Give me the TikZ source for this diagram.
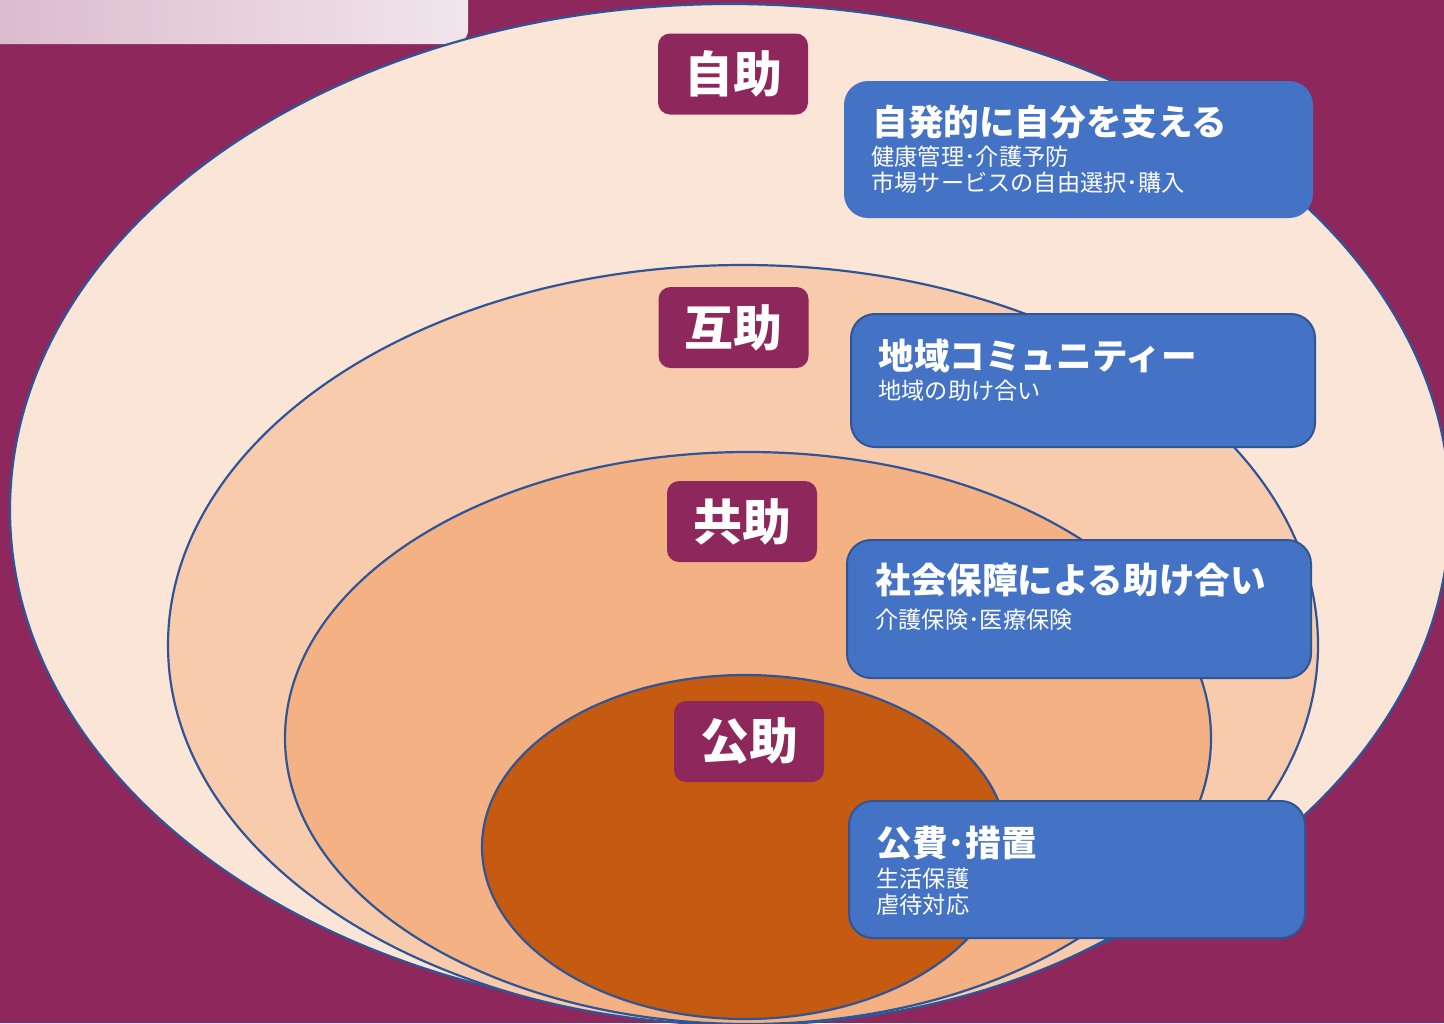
\documentclass[tikz,border=0pt]{standalone}
\usepackage{fontspec}
\newfontfamily\jpfont{Noto Sans CJK JP}
\usepackage{xcolor}
\usetikzlibrary{shapes.geometric,positioning}

\definecolor{plum}{HTML}{8E275C}
\definecolor{ringA}{HTML}{FBE5D6}
\definecolor{ringB}{HTML}{F8CBAD}
\definecolor{ringC}{HTML}{F4B183}
\definecolor{ringD}{HTML}{C55A11}
\definecolor{boxblue}{HTML}{4472C4}
\definecolor{edgeblue}{HTML}{2F5597}

\begin{document}
\begin{tikzpicture}[x=0.5pt, y=-0.5pt, font=\jpfont,
    ring/.style={draw=edgeblue, line width=1.1pt},
    tag/.style={rectangle, rounded corners=6pt, fill=plum, text=white, font=\jpfont\bfseries\fontsize{24.5}{26}\selectfont, minimum width=75pt, minimum height=40.5pt},
    panel/.style={rectangle, rounded corners=12pt, fill=boxblue, draw=edgeblue, line width=1pt},
    head/.style={anchor=west, inner sep=0pt, text=white, font=\jpfont\bfseries\fontsize{17.8}{20}\selectfont},
    detail/.style={anchor=west, inner sep=0pt, align=left, text=white, font=\jpfont\fontsize{11.6}{13}\selectfont}]

    \useasboundingbox (0,0) rectangle (1444,1023);
    \clip (0,0) rectangle (1444,1023);
    \fill[plum] (0,0) rectangle (1444,1023);

    % title plate, cut off at the top
    \shade[left color=plum!32!white, right color=plum!12!white, rounded corners=7pt] (-20,-20) rectangle (468,44);

    % rings
    \draw[ring, fill=ringA] (730,510) ellipse [x radius=360pt, y radius=253pt];
    \draw[ring, fill=ringB] (743,645) ellipse [x radius=287.5pt, y radius=190pt];
    \draw[ring, fill=ringC] (748,738) ellipse [x radius=231.5pt, y radius=143pt];
    \draw[ring, fill=ringD] (745,847) ellipse [x radius=131.5pt, y radius=86pt];

    \node [tag] (jijo) at (733,74) {自助};
    \node [tag] (gojo) at (733.5,327.5) {互助};
    \node [tag] (kyojo) at (742,521.5) {共助};
    \node [tag] (kojo) at (749,741.5) {公助};

    \node [panel, draw=none, minimum width=234.5pt, minimum height=68.5pt] (self) at (1078.5,149.5) {};
    \node [panel, minimum width=232pt, minimum height=66.5pt] (mutual) at (1083,380.5) {};
    \node [panel, minimum width=232pt, minimum height=69pt] (social) at (1079,609) {};
    \node [panel, minimum width=228pt, minimum height=68.5pt] (public) at (1077,869.5) {};

    \node [head] (selfhead) at (872,122) {自発的に自分を支える};
    \node [detail] (selftext) at (871,170) {健康管理･介護予防\\市場サービスの自由選択･購入};
    \node [head] (mutualhead) at (878,356) {地域コミュニティー};
    \node [detail] (mutualtext) at (878,391) {地域の助け合い};
    \node [head] (socialhead) at (875,580) {社会保障による助け合い};
    \node [detail] (socialtext) at (875,620) {介護保険･医療保険};
    \node [head] (publichead) at (876,843) {公費･措置};
    \node [detail] (publictext) at (876,892) {生活保護\\虐待対応};
\end{tikzpicture}
\end{document}
